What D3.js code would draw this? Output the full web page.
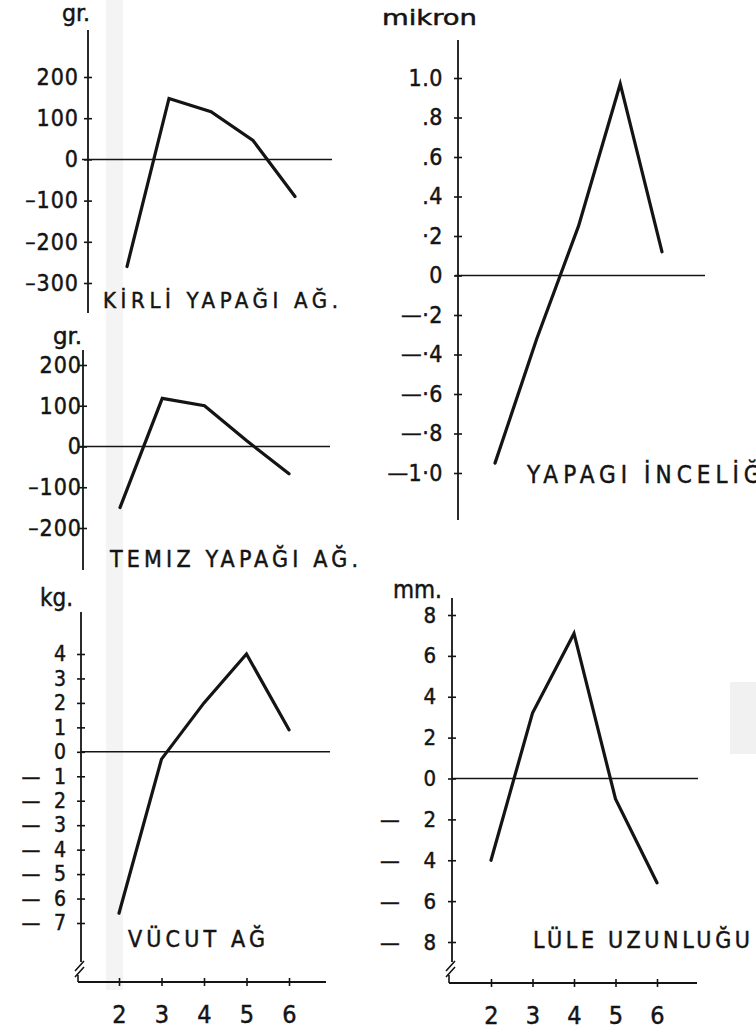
<!DOCTYPE html>
<html>
<head>
<meta charset="utf-8">
<script src="https://cdn.jsdelivr.net/npm/d3@7"></script>
<style>
  body { margin: 0; background: #fff; }
  svg { display: block; }
  text {
    font-family: "DejaVu Sans Condensed", "DejaVu Sans", sans-serif;
    fill: #141414;
    stroke: #141414;
    stroke-width: 0.45px;
  }
</style>
</head>
<body>
<script>
const groups = [2, 3, 4, 5, 6];

const kirliValues = [-260, 148, 116, 46, -90];
const kirliTicks = [200, 100, 0, -100, -200, -300];
const kirliLabels = ["200", "100", "0", "\u2013100", "\u2013200", "\u2013300"];

const temizValues = [-150, 118, 100, 14, -67];
const temizTicks = [200, 100, 0, -100, -200];
const temizLabels = ["200", "100", "0", "\u2013100", "\u2013200"];

const vucutValues = [-6.6, -0.3, 2.0, 4.0, 0.9];
const vucutTicks = [4, 3, 2, 1, 0, -1, -2, -3, -4, -5, -6, -7];
const vucutLabels = ["4", "3", "2", "1", "0", "1", "2", "3", "4", "5", "6", "7"];

const incelikValues = [-0.95, -0.32, 0.25, 0.97, 0.12];
const incelikTicks = [1.0, 0.8, 0.6, 0.4, 0.2, 0, -0.2, -0.4, -0.6, -0.8, -1.0];
const incelikLabels = ["1.0", ".8", ".6", ".4", "\u00b72", "0", "\u2014\u00b72", "\u2014\u00b74", "\u2014\u00b76", "\u2014\u00b78", "\u20141\u00b70"];

const luleValues = [-4.0, 3.2, 7.1, -1.0, -5.1];
const luleTicks = [8, 6, 4, 2, 0, -2, -4, -6, -8];
const luleLabels = ["8", "6", "4", "2", "0", "2", "4", "6", "8"];

const width = 756;
const height = 1032;
const ink = "#141414";

const svg = d3.select("body")
  .append("svg")
  .attr("width", width)
  .attr("height", height);

// faint scan marks on the paper
svg.append("rect").attr("x", 106).attr("y", 0).attr("width", 17).attr("height", 990)
  .attr("fill", "#efefef").attr("opacity", 0.7);
svg.append("rect").attr("x", 730).attr("y", 682).attr("width", 26).attr("height", 72)
  .attr("fill", "#f1f1f1");

const drawPanel = (o) => {
  const x = d3.scaleLinear().domain([2, 6]).range(o.xRange);
  const y = d3.scaleLinear().domain([o.ticks[0], o.ticks[o.ticks.length - 1]]).range(o.yRange);
  const g = svg.append("g");

  g.append("line")
    .attr("x1", o.axisX).attr("x2", o.axisX)
    .attr("y1", o.axisTop).attr("y2", o.axisBottom)
    .attr("stroke", ink).attr("stroke-width", 1.8);

  const axis = d3.axisLeft(y)
    .tickValues(o.ticks)
    .tickFormat((d, i) => o.labels[i])
    .tickSize(4)
    .tickSizeOuter(0)
    .tickPadding(o.pad);

  const ag = g.append("g")
    .attr("transform", `translate(${o.axisX},0)`)
    .call(axis);
  ag.select(".domain").remove();
  ag.selectAll(".tick line").attr("x1", 4).attr("stroke", ink).attr("stroke-width", 1.6);
  ag.selectAll(".tick text")
    .attr("font-size", o.fs)
    .attr("letter-spacing", o.ls || 0);

  if (o.dashX !== undefined) {
    ag.selectAll(".tick")
      .filter((d) => d < 0)
      .append("text")
      .attr("x", o.dashX - o.axisX)
      .attr("dy", "0.32em")
      .attr("text-anchor", "middle")
      .attr("font-size", o.fs)
      .text("\u2014");
  }

  // zero line
  g.append("line")
    .attr("x1", o.zero[0]).attr("x2", o.zero[1])
    .attr("y1", y(0)).attr("y2", y(0))
    .attr("stroke", ink).attr("stroke-width", 1.5);

  const line = d3.line()
    .x((d, i) => x(groups[i]))
    .y((d) => y(d));

  g.append("path")
    .datum(o.values)
    .attr("d", line)
    .attr("fill", "none")
    .attr("stroke", ink)
    .attr("stroke-width", 3.2)
    .attr("stroke-linejoin", "miter")
    .attr("stroke-linecap", "round");

  g.append("text")
    .attr("x", o.unit.x).attr("y", o.unit.y)
    .attr("font-size", o.unit.fs)
    .attr("textLength", o.unit.w)
    .attr("lengthAdjust", "spacingAndGlyphs")
    .text(o.unit.text);

  g.append("text")
    .attr("x", o.title.x).attr("y", o.title.y)
    .attr("font-size", o.title.fs)
    .attr("textLength", o.title.w)
    .attr("lengthAdjust", "spacing")
    .text(o.title.text);

  if (o.xAxisY) {
    const xa = d3.axisBottom(x)
      .tickValues(groups)
      .tickFormat(d3.format("d"))
      .tickSize(4)
      .tickSizeOuter(0)
      .tickPadding(19);
    const xg = g.append("g")
      .attr("transform", `translate(0,${o.xAxisY})`)
      .call(xa);
    xg.select(".domain").remove();
    xg.selectAll(".tick line").attr("y1", -4).attr("stroke", ink).attr("stroke-width", 1.6);
    xg.selectAll(".tick text").attr("font-size", 25);

    g.append("line")
      .attr("x1", o.axisX - 3).attr("x2", o.xEnd)
      .attr("y1", o.xAxisY).attr("y2", o.xAxisY)
      .attr("stroke", ink).attr("stroke-width", 1.8);

    // axis break
    const b = o.axisBottom;
    g.append("path")
      .attr("d", `M${o.axisX - 6},${b + 9} L${o.axisX + 3},${b - 1} M${o.axisX - 6},${b + 15} L${o.axisX + 3},${b + 5} M${o.axisX - 3},${b + 13} L${o.axisX - 3},${o.xAxisY}`)
      .attr("fill", "none")
      .attr("stroke", ink)
      .attr("stroke-width", 1.6);
  }
};

drawPanel({
  values: kirliValues, ticks: kirliTicks, labels: kirliLabels,
  axisX: 88, axisTop: 30, axisBottom: 313,
  yRange: [77, 283], xRange: [127, 295], zero: [82, 332],
  pad: 5, fs: 23, ls: 1,
  unit: { text: "gr.", x: 62, y: 21, fs: 23, w: 28 },
  title: { text: "KİRLİ YAPAĞI AĞ.", x: 103, y: 308, fs: 22, w: 235 }
});

drawPanel({
  values: temizValues, ticks: temizTicks, labels: temizLabels,
  axisX: 83, axisTop: 350, axisBottom: 570,
  yRange: [365, 528], xRange: [120, 289], zero: [80, 330],
  pad: -3, fs: 23, ls: 1,
  unit: { text: "gr.", x: 53, y: 344, fs: 23, w: 29 },
  title: { text: "TEMIZ YAPAĞI AĞ.", x: 110, y: 567, fs: 23, w: 248 }
});

drawPanel({
  values: incelikValues, ticks: incelikTicks, labels: incelikLabels,
  axisX: 458, axisTop: 40, axisBottom: 520,
  yRange: [78, 473], xRange: [495, 662], zero: [455, 705],
  pad: 11, fs: 23, ls: 0.5,
  unit: { text: "mikron", x: 382, y: 25, fs: 22, w: 95 },
  title: { text: "YAPAGI İNCELİĞİ", x: 527, y: 483, fs: 24, w: 245 }
});

drawPanel({
  values: vucutValues, ticks: vucutTicks, labels: vucutLabels,
  axisX: 81, axisTop: 612, axisBottom: 962,
  yRange: [654, 923], xRange: [119, 289], zero: [81, 330],
  pad: 11, fs: 21, dashX: 31,
  unit: { text: "kg.", x: 40, y: 606, fs: 24, w: 33 },
  title: { text: "VÜCUT AĞ", x: 128, y: 947, fs: 23, w: 137 },
  xAxisY: 982, xEnd: 326
});

drawPanel({
  values: luleValues, ticks: luleTicks, labels: luleLabels,
  axisX: 452, axisTop: 598, axisBottom: 962,
  yRange: [615, 942], xRange: [491, 657], zero: [452, 698],
  pad: 12, fs: 22, dashX: 390,
  unit: { text: "mm.", x: 393, y: 598, fs: 24, w: 49 },
  title: { text: "LÜLE UZUNLUĞU", x: 533, y: 948, fs: 23, w: 217 },
  xAxisY: 983, xEnd: 697
});
</script>
</body>
</html>
